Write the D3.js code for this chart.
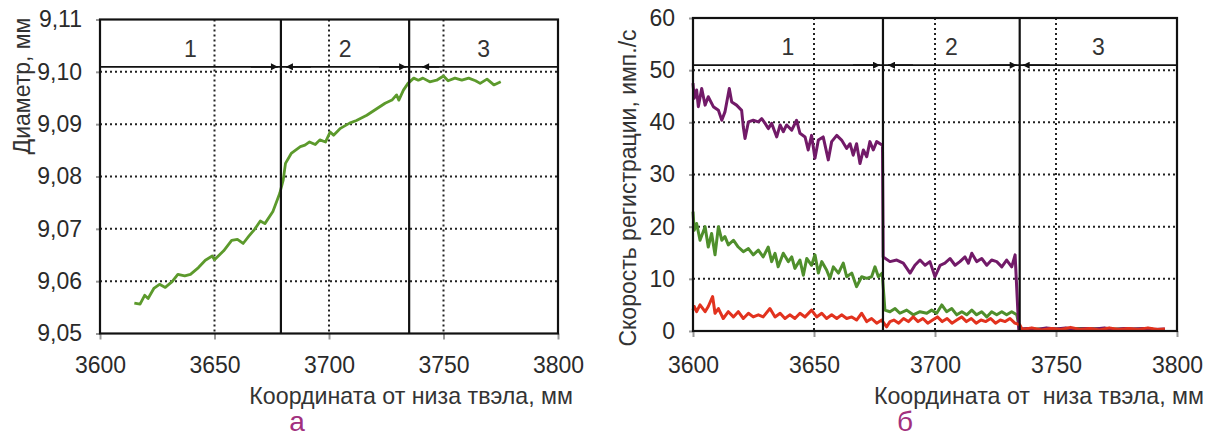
<!DOCTYPE html>
<html>
<head>
<meta charset="utf-8">
<script src="https://cdn.jsdelivr.net/npm/d3@7"></script>
<style>
  body { margin: 0; background: #fff; }
  text { font-family: "Liberation Sans", Arial, sans-serif; }
</style>
</head>
<body>
<svg id="chart" width="1206" height="439"></svg>
<script>
// ---- data ----
var xTicks = [3600, 3650, 3700, 3750, 3800];
var diamTicks = [9.05, 9.06, 9.07, 9.08, 9.09, 9.10, 9.11];
var rateTicks = [0, 10, 20, 30, 40, 50, 60];
var zoneNames = ["1", "2", "3"];
var diamZones = [3679, 3735];   // zone borders, panel а
var rateZones = [3678.5, 3735]; // zone borders, panel б

// diameter, mm  [coordinate, value]
var diameter = [
  [3615, 9.0558], [3617.5, 9.0556], [3619.5, 9.0573], [3621, 9.0567], [3623.5, 9.0586],
  [3626, 9.0594], [3628.5, 9.0588], [3631.5, 9.0599], [3634, 9.0613], [3637, 9.0610],
  [3639.5, 9.0613], [3643, 9.0626], [3646, 9.0640], [3649, 9.0648], [3650, 9.0641],
  [3654, 9.0658], [3657.5, 9.0678], [3660, 9.0680], [3662.5, 9.0672], [3665, 9.0686],
  [3667.5, 9.0699], [3670, 9.0715], [3672, 9.0710], [3675.5, 9.0733], [3678.5, 9.0768],
  [3680, 9.0793], [3681, 9.0825], [3683.5, 9.0844], [3687.5, 9.0857], [3689.5, 9.0860],
  [3691.5, 9.0866], [3694, 9.0861], [3696, 9.0870], [3698.5, 9.0866], [3700.5, 9.0885],
  [3702, 9.0879], [3705, 9.0892], [3709, 9.0902], [3712, 9.0907], [3716.5, 9.0917],
  [3721, 9.0930], [3724.5, 9.0940], [3727.5, 9.0946], [3729.5, 9.0956], [3730.5, 9.0946],
  [3732.5, 9.0965], [3734.5, 9.0978], [3737, 9.0988], [3739, 9.0984], [3741, 9.0988],
  [3744, 9.0981], [3747, 9.0984], [3750, 9.0992], [3752, 9.0983], [3755, 9.0988],
  [3758, 9.0984], [3761, 9.0988], [3764, 9.0983], [3766, 9.0978], [3769, 9.0986],
  [3772, 9.0975], [3775, 9.0981]
];

// count rate, imp/s
var ratePurple = [
  [3600, 47.5], [3600.5, 44.6], [3601.5, 46.2], [3602.2, 43.0], [3603.6, 46.5], [3605, 43.3],
  [3606.3, 44.9], [3608.4, 43.0], [3610.5, 42.3], [3611.9, 40.4], [3613.2, 42.0], [3615, 46.5],
  [3616, 43.9], [3618, 43.3], [3620.1, 42.3], [3620.8, 39.1], [3621.5, 36.9], [3622.9, 40.1],
  [3624.9, 40.4], [3627, 40.1], [3628.4, 40.7], [3629.8, 39.8], [3631.1, 38.8], [3632.5, 39.8],
  [3634.6, 37.2], [3636, 39.5], [3637.3, 38.2], [3638.7, 39.5], [3640.8, 38.5], [3642.8, 40.4],
  [3644.2, 37.9], [3646.3, 37.2], [3647.6, 34.7], [3649, 37.5], [3650.4, 33.1], [3651.8, 36.6],
  [3653.8, 37.2], [3655.9, 32.8], [3657.3, 36.3], [3659.4, 37.5], [3661.4, 36.6], [3663.5, 35.0],
  [3664.9, 35.9], [3666.2, 33.7], [3667.6, 35.9], [3669, 32.1], [3670.4, 34.7], [3671.8, 33.4],
  [3673.1, 36.3], [3674.5, 34.7], [3675.9, 36.3], [3678.3, 35.6], [3678.6, 14.2], [3681.4, 13.3],
  [3684.2, 13.6], [3686.9, 13.0], [3689.7, 11.1], [3691.7, 12.6], [3693.8, 13.6], [3695.9, 12.6],
  [3697.9, 13.3], [3700, 10.4], [3702.1, 12.6], [3704.1, 13.0], [3706.2, 13.9], [3708.3, 12.6],
  [3710.3, 13.3], [3712.4, 14.2], [3713.8, 13.0], [3715.2, 14.9], [3717.2, 13.3], [3719.3, 13.9],
  [3721.4, 12.6], [3723.4, 13.6], [3725.5, 13.3], [3727.6, 12.3], [3729.6, 13.6], [3731.7, 12.3],
  [3733.1, 14.6], [3734.6, 0.3], [3738, 0.5], [3742, 0.3], [3746, 0.6], [3750, 0.4], [3754, 0.6],
  [3758, 0.3], [3762, 0.5], [3766, 0.4], [3770, 0.6], [3774, 0.3], [3778, 0.5], [3782, 0.4],
  [3786, 0.5], [3790, 0.3], [3795, 0.4]
];
var rateGreen = [
  [3600, 22.9], [3600.5, 19.3], [3601.5, 20.6], [3602.9, 17.4], [3605, 20.0], [3606.3, 16.1],
  [3607.7, 18.7], [3609.1, 14.6], [3610.5, 20.0], [3611.9, 17.4], [3613.2, 18.1], [3614.6, 16.5],
  [3616.7, 17.4], [3618.7, 16.1], [3620.8, 15.2], [3622.9, 15.8], [3624.9, 14.6], [3627, 15.5],
  [3629, 14.2], [3631.1, 16.1], [3632.5, 13.3], [3633.9, 14.9], [3635.2, 12.3], [3637.3, 14.9],
  [3639.4, 13.3], [3640.8, 14.2], [3642.1, 12.0], [3644.2, 13.6], [3645.6, 10.7], [3647, 13.9],
  [3649, 12.6], [3650.4, 14.6], [3651.8, 11.1], [3653.2, 13.3], [3655.2, 11.7], [3656.6, 10.1],
  [3658, 12.3], [3660.1, 11.1], [3662.1, 13.0], [3663.5, 10.4], [3665.6, 11.1], [3667.6, 8.5],
  [3669.7, 10.4], [3671.8, 10.1], [3673.8, 10.4], [3675.2, 12.3], [3676.6, 10.4], [3678.2, 11.1],
  [3679.3, 4.0], [3681.4, 3.7], [3683.5, 4.3], [3685.5, 3.4], [3688.3, 4.0], [3691, 3.1],
  [3693.8, 3.7], [3696.6, 3.4], [3698.6, 4.0], [3700.7, 3.4], [3702.8, 5.0], [3704.8, 3.7],
  [3706.9, 4.3], [3709, 3.1], [3711.1, 3.7], [3713.1, 3.1], [3715.2, 4.0], [3717.2, 3.1],
  [3719.3, 3.7], [3721.4, 2.7], [3723.4, 3.7], [3725.5, 3.1], [3727.6, 3.7], [3729.6, 3.1],
  [3731.7, 3.7], [3733.8, 3.1], [3735, 0.4], [3745, 0.4], [3760, 0.5], [3775, 0.4], [3790, 0.4]
];
var rateRed = [
  [3600, 4.0], [3600.5, 4.7], [3601.5, 3.7], [3602.9, 5.0], [3605, 3.7], [3606.3, 4.7],
  [3608.1, 6.6], [3609.1, 3.4], [3610.5, 4.3], [3612.5, 2.4], [3614.6, 3.7], [3616.7, 2.7],
  [3618.7, 3.7], [3620.8, 2.4], [3622.9, 3.4], [3624.9, 2.7], [3627, 3.1], [3629, 2.7],
  [3631.8, 4.3], [3633.9, 2.7], [3636, 3.4], [3638, 2.4], [3640, 3.1], [3642.1, 2.4],
  [3644.2, 3.4], [3646.3, 2.7], [3649, 4.0], [3651.1, 2.7], [3653.2, 3.4], [3655.2, 2.4],
  [3657.3, 3.1], [3659.4, 2.4], [3661.4, 3.1], [3663.5, 2.4], [3665.6, 2.7], [3667.6, 2.1],
  [3669.7, 3.4], [3671.8, 1.8], [3673.8, 2.4], [3675.9, 1.5], [3678, 2.1], [3680, 0.8],
  [3681.4, 1.8], [3683, 2.1], [3685, 1.5], [3687, 2.4], [3689, 1.8], [3691, 2.7], [3693, 1.8],
  [3695, 2.4], [3697, 1.5], [3699, 2.1], [3701, 2.7], [3703, 1.8], [3705, 2.4], [3707, 1.5],
  [3709, 2.1], [3711, 2.7], [3713, 1.8], [3715, 2.4], [3717, 1.5], [3719, 2.1], [3721, 1.8],
  [3723, 2.4], [3725, 1.5], [3727, 2.1], [3729, 1.8], [3731, 2.4], [3733, 1.5], [3735, 1.2],
  [3736, 0.3], [3740, 0.6], [3744, 0.2], [3748, 0.5], [3752, 0.3], [3756, 0.7], [3760, 0.3],
  [3764, 0.5], [3768, 0.2], [3772, 0.6], [3776, 0.3], [3780, 0.5], [3784, 0.3], [3788, 0.6],
  [3792, 0.3], [3795, 0.4]
];

var svg = d3.select("#chart");

svg.append("defs").append("marker")
  .attr("id", "arrow")
  .attr("viewBox", "0 0 10 10")
  .attr("refX", 10).attr("refY", 5)
  .attr("markerWidth", 9).attr("markerHeight", 7)
  .attr("markerUnits", "userSpaceOnUse")
  .attr("orient", "auto-start-reverse")
  .append("path")
  .attr("d", "M0,0 L10,5 L0,10 z")
  .attr("fill", "#111");

function drawPanel(p) {
  var x = d3.scaleLinear().domain([3600, 3800]).range([p.left, p.right]);
  var y = d3.scaleLinear().domain(d3.extent(p.yTicks)).range([p.bottom, p.top]);
  var g = svg.append("g");

  // dotted grid
  var inner = p.yTicks.slice(1, -1);
  g.selectAll(".hg").data(inner).enter().append("line")
    .attr("x1", p.left).attr("x2", p.right)
    .attr("y1", d => y(d)).attr("y2", d => y(d))
    .attr("stroke", "#222").attr("stroke-width", 2).attr("stroke-dasharray", "2,3");
  g.selectAll(".vg").data(xTicks.slice(1, -1)).enter().append("line")
    .attr("x1", d => x(d)).attr("x2", d => x(d))
    .attr("y1", p.top).attr("y2", p.bottom)
    .attr("stroke", "#222").attr("stroke-width", 2).attr("stroke-dasharray", "2,3");

  // axes
  var ya = g.append("g").attr("transform", "translate(" + p.left + ",0)")
    .call(d3.axisLeft(y).tickValues(p.yTicks).tickFormat(p.fmt).tickSize(4).tickPadding(14));
  var xa = g.append("g").attr("transform", "translate(0," + p.bottom + ")")
    .call(d3.axisBottom(x).tickValues(xTicks).tickFormat(d3.format("d")).tickSize(6).tickPadding(p.xPad));
  [ya, xa].forEach(function (a) {
    a.select(".domain").remove();
    a.selectAll(".tick line").attr("stroke", "#999").attr("stroke-width", 2);
    a.selectAll(".tick text").attr("font-size", 23).attr("fill", "#2a2a2a")
      .style("font-family", "'Liberation Sans', Arial, sans-serif");
  });

  // series
  var line = d3.line().x(d => x(d[0])).y(d => y(d[1]));
  p.series.forEach(function (s) {
    g.append("path").datum(s.data)
      .attr("d", line)
      .attr("fill", "none")
      .attr("stroke", s.color)
      .attr("stroke-width", s.width || 3)
      .attr("stroke-linejoin", "round");
  });

  // frame and zone borders
  g.append("rect")
    .attr("x", p.left).attr("y", p.top)
    .attr("width", p.right - p.left).attr("height", p.bottom - p.top)
    .attr("fill", "none").attr("stroke", "#111").attr("stroke-width", 2.2);
  g.selectAll(".zb").data(p.zones).enter().append("line")
    .attr("x1", d => x(d)).attr("x2", d => x(d))
    .attr("y1", p.top).attr("y2", p.bottom)
    .attr("stroke", "#111").attr("stroke-width", 2.2);

  // dimension line with arrows
  var dy = y(p.dimAt) - 5;
  g.append("line")
    .attr("x1", p.left).attr("x2", p.right).attr("y1", dy).attr("y2", dy)
    .attr("stroke", "#111").attr("stroke-width", 1.6);
  var edges = [3600].concat(p.zones).concat([3800]);
  var arrows = [
    { from: x(p.zones[0]) - 30, to: x(p.zones[0]) - 3 },
    { from: x(p.zones[0]) + 30, to: x(p.zones[0]) + 5 },
    { from: x(p.zones[1]) - 30, to: x(p.zones[1]) - 3 },
    { from: x(p.zones[1]) + 30, to: x(p.zones[1]) + p.gap3 }
  ];
  g.selectAll(".ar").data(arrows).enter().append("line")
    .attr("x1", d => d.from).attr("x2", d => d.to)
    .attr("y1", dy).attr("y2", dy)
    .attr("stroke", "#111").attr("stroke-width", 1.6)
    .attr("marker-end", "url(#arrow)");

  // zone numbers
  g.selectAll(".zn").data(zoneNames).enter().append("text")
    .attr("x", (d, i) => (x(edges[i]) + x(edges[i + 1])) / 2)
    .attr("y", dy - 10)
    .attr("text-anchor", "middle")
    .attr("font-size", 23).attr("fill", "#333")
    .text(d => d);

  // axis titles
  g.append("text")
    .attr("transform", "translate(" + p.yTitleX + "," + p.yTitleY + ") rotate(-90)")
    .attr("text-anchor", "middle").attr("dy", "0.35em")
    .attr("font-size", 23).attr("fill", "#333")
    .text(p.yTitle);
  g.append("text")
    .attr("x", p.xTitleEnd).attr("y", 404)
    .attr("text-anchor", "end")
    .attr("font-size", 23.2).attr("fill", "#333")
    .style("white-space", "pre")
    .text(p.xTitle);
  g.append("text")
    .attr("x", p.letterX).attr("y", 431)
    .attr("text-anchor", "middle")
    .attr("font-size", 28).attr("fill", "#a2307e")
    .text(p.letter);
}

drawPanel({
  left: 100, right: 558, top: 19.5, bottom: 333.5,
  yTicks: diamTicks,
  fmt: d => d3.format(".2f")(d).replace(".", ","),
  xPad: 17,
  zones: diamZones, dimAt: 9.10, gap3: 13,
  series: [{ data: diameter, color: "#5c9a2c", width: 2.8 }],
  yTitle: "Диаметр, мм", yTitleX: 22, yTitleY: 86,
  xTitle: "Координата от низа твэла, мм", xTitleEnd: 573,
  letter: "а", letterX: 297
});

drawPanel({
  left: 693, right: 1177, top: 18, bottom: 331,
  yTicks: rateTicks,
  fmt: d3.format("d"),
  xPad: 20,
  zones: rateZones, dimAt: 50, gap3: 3,
  series: [
    { data: rateGreen, color: "#4f8f2c" },
    { data: ratePurple, color: "#721a68" },
    { data: rateRed, color: "#e2321e" }
  ],
  yTitle: "Скорость регистрации, имп./с", yTitleX: 628, yTitleY: 188,
  xTitle: "Координата от  низа твэла, мм", xTitleEnd: 1204,
  letter: "б", letterX: 905
});
</script>
</body>
</html>
